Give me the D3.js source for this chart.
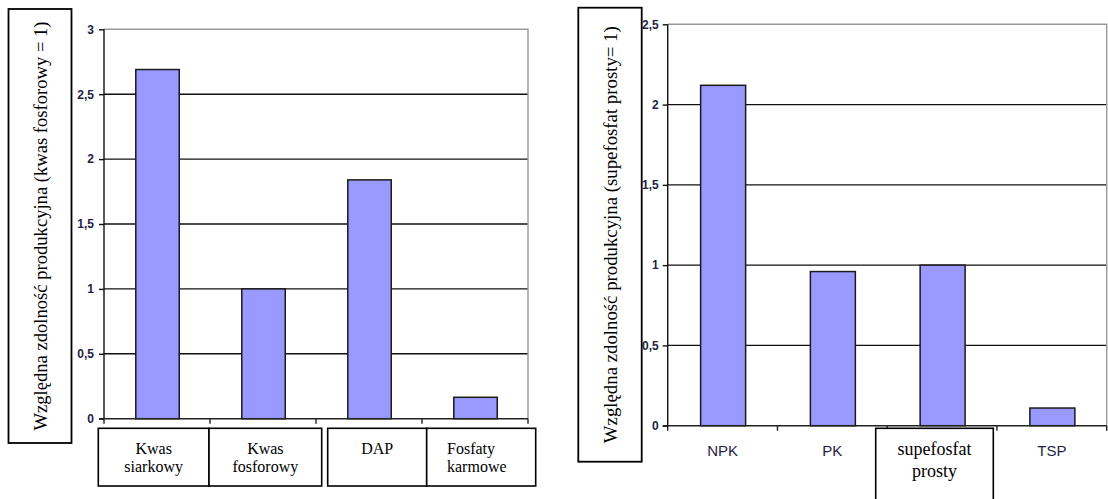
<!DOCTYPE html>
<html>
<head>
<meta charset="utf-8">
<script src="https://cdn.jsdelivr.net/npm/d3@7/dist/d3.min.js"></script>
<style>
  html, body { margin: 0; padding: 0; background: #fff; }
  svg { display: block; }
  .serif { font-family: "Liberation Serif", "Times New Roman", Times, "DejaVu Serif", "Noto Serif", serif; }
  .sans { font-family: "Liberation Sans", Arial, Helvetica, sans-serif; }
</style>
</head>
<body>
<svg id="chart" width="1108" height="499"></svg>
<script>
// Left panel: production capacity relative to phosphoric acid
const leftCategories = ["Kwas siarkowy", "Kwas fosforowy", "DAP", "Fosfaty karmowe"];
const leftValues = [2.69, 1.0, 1.84, 0.165];
const leftTicks = [0, 0.5, 1, 1.5, 2, 2.5, 3];
const leftTitle = "Względna zdolność produkcyjna (kwas fosforowy = 1)";

// Right panel: production capacity relative to single superphosphate
const rightCategories = ["NPK", "PK", "supefosfat prosty", "TSP"];
const rightValues = [2.12, 0.96, 1.0, 0.11];
const rightTicks = [0, 0.5, 1, 1.5, 2, 2.5];
const rightTitle = "Względna zdolność produkcyjna (supefosfat prosty= 1)";

const BAR_FILL = "#9999ff";
const TICK_COLOR = "#1e1e46";

const svg = d3.select("#chart");
const fmt = v => String(v).replace(".", ",");

function drawPanel(cfg) {
  const g = svg.append("g");
  const x = d3.scaleBand().domain(cfg.categories).range([cfg.x0, cfg.x1]).padding(0);
  const y = d3.scaleLinear().domain([0, d3.max(cfg.ticks)]).range([cfg.yBottom, cfg.yTop]);

  // horizontal gridlines (all but the top, which is the plot border)
  g.append("g").selectAll("line")
    .data(cfg.ticks.filter(t => t > 0 && t < d3.max(cfg.ticks)))
    .join("line")
    .attr("x1", cfg.x0).attr("x2", cfg.x1)
    .attr("y1", d => y(d)).attr("y2", d => y(d))
    .attr("stroke", "#111").attr("stroke-width", 1.4);

  // plot area border (top and right)
  g.append("path")
    .attr("d", `M${cfg.x0},${y(d3.max(cfg.ticks))}H${cfg.x1}V${cfg.yBottom}`)
    .attr("fill", "none").attr("stroke", "#999").attr("stroke-width", 1.4);

  // bars
  const bw = x.bandwidth();
  g.append("g").selectAll("rect")
    .data(cfg.categories.map((c, i) => ({ c, v: cfg.values[i] })))
    .join("rect")
    .attr("x", d => x(d.c) + bw * 0.3)
    .attr("width", bw * 0.41)
    .attr("y", d => y(d.v))
    .attr("height", d => y(0) - y(d.v))
    .attr("fill", BAR_FILL)
    .attr("stroke", "#1a1a1a").attr("stroke-width", 1.5);

  // y axis
  const yAxis = d3.axisLeft(y).tickValues(cfg.ticks).tickSize(5).tickPadding(cfg.tickPad).tickFormat(fmt);
  const ya = g.append("g").attr("transform", `translate(${cfg.x0},0)`).call(yAxis);
  ya.attr("font-family", null).attr("font-size", null);
  ya.select(".domain").attr("stroke", "#111").attr("stroke-width", 1.4).attr("d", `M0,${cfg.yBottom}V${cfg.yTop}`);
  ya.selectAll(".tick line").attr("stroke", "#111").attr("stroke-width", 1.4);
  ya.selectAll(".tick text")
    .attr("class", "sans")
    .attr("fill", TICK_COLOR)
    .style("font-size", "12px").style("font-weight", "bold");

  // x axis: baseline with ticks at category boundaries
  g.append("line")
    .attr("x1", cfg.x0 - 5).attr("x2", cfg.x1)
    .attr("y1", cfg.yBottom).attr("y2", cfg.yBottom)
    .attr("stroke", "#222").attr("stroke-width", 1.4);
  const bounds = cfg.categories.map(c => x(c)).concat([cfg.x1]);
  g.append("g").selectAll("line")
    .data(bounds)
    .join("line")
    .attr("x1", d => d).attr("x2", d => d)
    .attr("y1", cfg.yBottom).attr("y2", cfg.yBottom + 5)
    .attr("stroke", "#222").attr("stroke-width", 1.4);

  // rotated axis title inside a framed box
  const b = cfg.titleBox;
  g.append("rect")
    .attr("x", b.x).attr("y", b.y).attr("width", b.w).attr("height", b.h)
    .attr("fill", "#fff").attr("stroke", "#000").attr("stroke-width", 1.8);
  g.append("text")
    .attr("class", "serif")
    .attr("transform", `translate(${b.x + b.w / 2 + 6.5},${b.y + b.h / 2}) rotate(-90)`)
    .attr("text-anchor", "middle")
    .style("font-size", cfg.titleSize + "px")
    .attr("fill", "#000")
    .text(cfg.title);

  return { g, x, y };
}

// ---------- left panel ----------
const L = drawPanel({
  categories: leftCategories, values: leftValues, ticks: leftTicks,
  x0: 104, x1: 528, yTop: 29.3, yBottom: 418.7, tickPad: 5,
  title: leftTitle, titleSize: 18.6,
  titleBox: { x: 8.5, y: 9, w: 63, h: 434 }
});

// category labels in framed boxes (two groups of two)
const leftBoxes = [
  { x: 98.3, w: 110.7 }, { x: 209, w: 112.7 },
  { x: 327.7, w: 99 }, { x: 426.7, w: 109 }
];
leftCategories.forEach((c, i) => {
  const bx = leftBoxes[i];
  L.g.append("rect")
    .attr("x", bx.x).attr("y", 428.3).attr("width", bx.w).attr("height", 57.7)
    .attr("fill", "#fff").attr("stroke", "#000").attr("stroke-width", 1.6);
  const words = c.split(" ");
  const alignLeft = i === 3;
  const t = L.g.append("text")
    .attr("class", "serif")
    .attr("text-anchor", alignLeft ? "start" : "middle")
    .style("font-size", "16px").attr("fill", "#000");
  words.forEach((w, k) => {
    t.append("tspan")
      .attr("x", alignLeft ? bx.x + 20.3 : bx.x + bx.w / 2)
      .attr("y", 454 + k * 18)
      .text(w);
  });
});

// ---------- right panel ----------
const R = drawPanel({
  categories: rightCategories, values: rightValues, ticks: rightTicks,
  x0: 667.7, x1: 1106.7, yTop: 24.3, yBottom: 425.7, tickPad: 4,
  title: rightTitle, titleSize: 18.8,
  titleBox: { x: 578.3, y: 7.7, w: 63.4, h: 454 }
});

rightCategories.forEach((c, i) => {
  const cx = R.x(c) + R.x.bandwidth() / 2;
  if (c === "supefosfat prosty") {
    R.g.append("rect")
      .attr("x", 875.7).attr("y", 428.3).attr("width", 117.6).attr("height", 80)
      .attr("fill", "#fff").attr("stroke", "#000").attr("stroke-width", 1.6);
    const t = R.g.append("text")
      .attr("class", "serif")
      .attr("text-anchor", "middle")
      .style("font-size", "18px").attr("fill", "#000");
    c.split(" ").forEach((w, k) => {
      t.append("tspan").attr("x", 875.7 + 117.6 / 2).attr("y", 455 + k * 21.5).text(w);
    });
  } else {
    R.g.append("text")
      .attr("class", "sans")
      .attr("x", cx).attr("y", 456)
      .attr("text-anchor", "middle")
      .style("font-size", "15px")
      .attr("fill", TICK_COLOR)
      .text(c);
  }
});
</script>
</body>
</html>
